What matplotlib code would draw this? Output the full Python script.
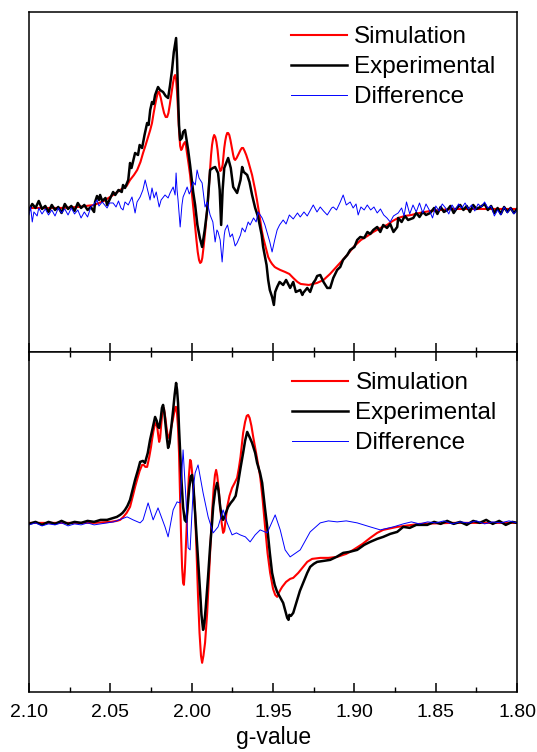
import matplotlib
matplotlib.use('Agg')
import matplotlib.pyplot as plt
from matplotlib.ticker import MultipleLocator, FormatStrFormatter

plt.rcParams.update({
    'font.family': ['Liberation Sans', 'DejaVu Sans'],
    'axes.linewidth': 1.1,
    'xtick.direction': 'in',
    'xtick.major.size': 6.5,
    'xtick.minor.size': 3.5,
    'xtick.major.width': 1.1,
    'xtick.minor.width': 1.0,
    'lines.solid_joinstyle': 'round',
})

# ---- upper spectrum ---------------------------------------------------
top_exp_g = [2.100, 2.098, 2.096, 2.094, 2.092, 2.090, 2.088, 2.086, 2.084, 2.082,
             2.080, 2.078, 2.076, 2.074, 2.072, 2.070, 2.068, 2.066, 2.064, 2.062,
             2.060, 2.0594, 2.0582, 2.057, 2.0563, 2.055, 2.053, 2.052, 2.050, 2.0483,
             2.047, 2.045, 2.043, 2.0422, 2.041, 2.039, 2.0379, 2.037, 2.0355, 2.0348,
             2.033, 2.032, 2.0305, 2.0299, 2.029, 2.0274, 2.0265, 2.0255, 2.0244, 2.0235,
             2.0225, 2.0207, 2.0195, 2.0176, 2.016, 2.0145, 2.0133, 2.0121, 2.011, 2.0096,
             2.009, 2.0084, 2.0078, 2.0071, 2.006, 2.0053, 2.0041, 2.003, 2.0022, 2.001,
             1.9998, 1.9991, 1.9979, 1.9965, 1.995, 1.9936, 1.992, 1.9905, 1.9887, 1.987,
             1.9856, 1.9838, 1.9828, 1.9819, 1.981, 1.980, 1.9776, 1.976, 1.9745, 1.9721,
             1.970, 1.969, 1.968, 1.9659, 1.9645, 1.9629, 1.961, 1.9592, 1.957, 1.9561,
             1.954, 1.953, 1.952, 1.9506, 1.9495, 1.9487, 1.9475, 1.946, 1.9438, 1.942,
             1.9395, 1.9376, 1.936, 1.9333, 1.932, 1.9315, 1.929, 1.9272, 1.9253, 1.924,
             1.9229, 1.921, 1.919, 1.9167, 1.9149, 1.913, 1.9106, 1.9087, 1.907, 1.9044,
             1.9026, 1.900, 1.8983, 1.8964, 1.894, 1.892, 1.8903, 1.8884, 1.886, 1.8841,
             1.8823, 1.880, 1.878, 1.876, 1.8737, 1.8731, 1.871, 1.869, 1.867, 1.8638,
             1.862, 1.860, 1.858, 1.856, 1.8534, 1.851, 1.849, 1.847, 1.845, 1.8429,
             1.841, 1.839, 1.837, 1.835, 1.833, 1.831, 1.829, 1.827, 1.825, 1.8226,
             1.820, 1.818, 1.816, 1.814, 1.812, 1.810, 1.808, 1.806, 1.804, 1.802, 1.800]
top_exp = [0, 6, 2, 9, 1, 4, -2, 5, 0, 3,
           -3, 6, 1, 4, -1, 7, 2, 5, 0, 3,
           -2, 8, 14, 10, 15, 9, 12, 5, 12, 18,
           15, 20, 18, 25, 22, 30, 47, 42, 52, 57,
           55, 65, 62, 67, 75, 87, 85, 100, 108, 106,
           115, 123, 120, 118, 114, 112, 125, 140, 158, 172,
           150, 115, 85, 70, 72, 78, 80, 68, 60, 45,
           28, 18, 5, -15, -28, -37, -20, 0, 40, 42,
           43, 37, 20, -15, 20, 42, 52, 42, 23, 17,
           30, 43, 38, 35, 28, 15, 2, -7, -25, -37,
           -55, -70, -80, -87, -95, -82, -77, -72, -75, -70,
           -78, -72, -82, -80, -85, -83, -78, -82, -73, -70,
           -66, -65, -72, -78, -78, -68, -60, -57, -50, -45,
           -40, -37, -30, -27, -28, -22, -24, -20, -17, -22,
           -15, -18, -14, -22, -17, -8, -12, -6, -10, -8,
           -3, -7, -2, -5, -3, 2, -4, 3, -2, 0,
           4, -3, 2, 5, 0, 4, -2, 5, 1, 3,
           6, 0, 4, -3, 2, -4, 3, -2, 2, -3, 1]

top_sim_g = [2.100, 2.090, 2.080, 2.070, 2.060, 2.054, 2.0483, 2.044, 2.040, 2.0379,
             2.0355, 2.0335, 2.0315, 2.0299, 2.0285, 2.027, 2.0255, 2.0244, 2.0235, 2.0225,
             2.0215, 2.0207, 2.020, 2.019, 2.018, 2.017, 2.016, 2.0151, 2.0143, 2.0135,
             2.0125, 2.0115, 2.0108, 2.0102, 2.0096, 2.009, 2.0084, 2.0078, 2.0071, 2.0065,
             2.006, 2.005, 2.0041, 2.0035, 2.003, 2.002, 2.001, 2.0002, 1.9995, 1.9987,
             1.9979, 1.9971, 1.9963, 1.9955, 1.9948, 1.9941, 1.9935, 1.9927, 1.9918, 1.9909,
             1.990, 1.9893, 1.9887, 1.9881, 1.9875, 1.9868, 1.9862, 1.9855, 1.9848, 1.9841,
             1.9835, 1.983, 1.9825, 1.9818, 1.981, 1.9805, 1.980, 1.9794, 1.9788, 1.9782,
             1.9776, 1.9769, 1.9762, 1.9753, 1.9745, 1.9739, 1.9733, 1.9724, 1.9715, 1.970,
             1.9692, 1.9684, 1.9675, 1.9665, 1.9653, 1.9641, 1.9629, 1.962, 1.961, 1.960,
             1.9592, 1.958, 1.957, 1.956, 1.9549, 1.954, 1.953, 1.9518, 1.9506, 1.949,
             1.948, 1.9456, 1.9426, 1.940, 1.9376, 1.935, 1.933, 1.928, 1.923, 1.919,
             1.915, 1.910, 1.9044, 1.900, 1.896, 1.892, 1.8884, 1.884, 1.880, 1.8765,
             1.8731, 1.869, 1.865, 1.860, 1.8534, 1.847, 1.840, 1.830, 1.820, 1.810, 1.800]
top_sim = [2, 2, 2, 3, 5, 9, 15, 20, 24, 30,
           35, 40, 48, 57, 64, 72, 80, 87, 96, 105,
           113, 118, 118, 112, 104, 97, 93, 93, 97, 105,
           116, 127, 133, 135, 131, 118, 100, 80, 64, 60,
           61, 66, 68, 64, 58, 47, 35, 22, 10, -3,
           -17, -30, -42, -50, -53, -52, -48, -37, -23, -6,
           10, 27, 43, 55, 65, 72, 75, 73, 68, 60,
           50, 43, 39, 40, 45, 53, 62, 69, 74, 77,
           77, 75, 70, 62, 55, 51, 50, 52, 55, 60,
           62, 62, 59, 55, 49, 42, 35, 28, 20, 11,
           3, -9, -20, -28, -35, -41, -47, -51, -54, -57,
           -58, -60, -62, -64, -68, -72, -74, -75, -73, -70,
           -64, -55, -45, -36, -30, -26, -22, -18, -15, -11,
           -8, -6, -5, -3, -1, 0, 1, 1, 1, 1, 1]

top_diff_g = [2.100, 2.099, 2.098, 2.097, 2.095, 2.094, 2.092, 2.090, 2.088, 2.086,
              2.084, 2.082, 2.080, 2.078, 2.076, 2.074, 2.072, 2.070, 2.068, 2.066,
              2.064, 2.062, 2.060, 2.0582, 2.057, 2.055, 2.0535, 2.052, 2.0505, 2.0483,
              2.0465, 2.045, 2.0435, 2.0422, 2.041, 2.039, 2.0367, 2.0348, 2.0336, 2.0317,
              2.030, 2.0286, 2.0274, 2.0256, 2.0244, 2.0231, 2.0218, 2.020, 2.0188, 2.0164,
              2.0145, 2.0133, 2.0114, 2.0102, 2.0096, 2.009, 2.0084, 2.0071, 2.006, 2.0053,
              2.004, 2.0028, 2.0015, 2.0004, 1.9991, 1.9978, 1.9967, 1.9955, 1.9936, 1.9918,
              1.9905, 1.9887, 1.987, 1.9856, 1.9845, 1.9838, 1.9825, 1.9813, 1.980, 1.9795,
              1.978, 1.9764, 1.975, 1.9733, 1.9721, 1.970, 1.969, 1.9672, 1.9653, 1.9641,
              1.962, 1.9604, 1.9592, 1.9579, 1.9567, 1.955, 1.9536, 1.952, 1.9506, 1.949,
              1.9475, 1.946, 1.9438, 1.942, 1.940, 1.9376, 1.935, 1.9333, 1.931, 1.929,
              1.9253, 1.923, 1.921, 1.919, 1.9167, 1.914, 1.913, 1.911, 1.9087, 1.9069,
              1.905, 1.9026, 1.9008, 1.899, 1.8977, 1.896, 1.894, 1.8921, 1.890, 1.888,
              1.886, 1.884, 1.882, 1.880, 1.878, 1.876, 1.8731, 1.871, 1.8695, 1.868,
              1.866, 1.864, 1.862, 1.860, 1.858, 1.856, 1.854, 1.852, 1.850, 1.848,
              1.846, 1.844, 1.842, 1.840, 1.838, 1.836, 1.834, 1.832, 1.830, 1.828,
              1.826, 1.824, 1.822, 1.820, 1.818, 1.816, 1.814, 1.812, 1.810, 1.808,
              1.806, 1.804, 1.802, 1.800]
top_diff = [-5, 3, -12, -2, -6, 2, -4, 1, -5, 0,
            -6, 2, -3, 1, -5, 2, -4, 0, -8, -2,
            -7, 3, 6, 10, 4, 8, 5, 2, 7, 7,
            3, 9, 2, 0, 8, 5, 13, -3, 8, 13,
            20, 30, 22, 10, 22, 12, 18, 3, 10, 15,
            12, 17, 23, 15, 37, 20, 10, -17, 5, 13,
            18, 23, 16, 20, 28, 25, 40, 32, 27, 3,
            8, -5, -12, -32, -20, -22, -30, -52, -25, -20,
            -15, -27, -24, -36, -33, -25, -18, -22, -12, -15,
            -8, -12, -2, -5, -8, -15, -23, -32, -42, -30,
            -20, -15, -10, -14, -5, -9, -3, -7, -2, -6,
            5, -2, 3, -1, -5, 2, 3, 0, 8, 15,
            5, 8, 2, 6, -5, 3, 0, 5, 0, 3,
            -3, 1, -5, -8, -12, -6, -3, 2, -6, 8,
            -4, 5, -2, 7, -3, 6, 0, -8, 4, -1,
            6, 2, -4, 5, 0, 6, 2, 7, 1, 5,
            -1, 6, 3, 8, 2, 4, -6, 0, -5, 3,
            -3, 2, -4, 0]

# ---- lower spectrum ---------------------------------------------------
bot_exp_g = [2.100, 2.096, 2.092, 2.088, 2.084, 2.080, 2.076, 2.072, 2.068, 2.064,
             2.060, 2.056, 2.052, 2.048, 2.046, 2.044, 2.0425, 2.041, 2.0395, 2.0379,
             2.036, 2.0348, 2.033, 2.0317, 2.030, 2.0287, 2.027, 2.0256, 2.024, 2.0225,
             2.0215, 2.0207, 2.020, 2.019, 2.0183, 2.0176, 2.0168, 2.016, 2.0152, 2.0145,
             2.0136, 2.0128, 2.012, 2.0114, 2.0105, 2.0096, 2.009, 2.0084, 2.0078, 2.0071,
             2.0062, 2.0053, 2.0043, 2.0034, 2.0024, 2.0015, 2.0006, 1.9998, 1.999, 1.9979,
             1.9967, 1.9958, 1.9948, 1.994, 1.993, 1.9922, 1.9914, 1.990, 1.9887, 1.9875,
             1.9868, 1.9856, 1.9844, 1.9835, 1.9825, 1.9815, 1.9807, 1.9795, 1.9776, 1.976,
             1.9745, 1.973, 1.9715, 1.970, 1.9684, 1.9672, 1.9659, 1.9645, 1.9629, 1.961,
             1.9598, 1.958, 1.9567, 1.955, 1.9536, 1.952, 1.9506, 1.949, 1.9475, 1.9455,
             1.9438, 1.9425, 1.9413, 1.9405, 1.940, 1.939, 1.9376, 1.9352, 1.9335, 1.9315,
             1.929, 1.9272, 1.925, 1.9229, 1.919, 1.9149, 1.911, 1.9069, 1.903, 1.8983,
             1.894, 1.8903, 1.886, 1.8823, 1.878, 1.8737, 1.870, 1.866, 1.862, 1.8552,
             1.851, 1.847, 1.843, 1.839, 1.835, 1.831, 1.827, 1.823, 1.819, 1.815,
             1.811, 1.807, 1.803, 1.800]
bot_exp = [-1, 1, -2, 1, -1, 2, -1, 1, 0, 2,
           1, 3, 3, 5, 6, 8, 10, 13, 17, 23,
           35, 43, 53, 61, 62, 60, 70, 83, 95, 106,
           102, 96, 95, 105, 115, 118, 110, 97, 84, 75,
           80, 92, 104, 113, 128, 140, 133, 120, 95, 70,
           40, 16, 3, 1, 18, 35, 46, 48, 38, 10,
           -20, -45, -70, -92, -107, -100, -85, -55, -24, 0,
           16, 32, 40, 32, 16, 6, 3, 8, 16, 20,
           23, 27, 40, 55, 70, 82, 91, 86, 80, 70,
           60, 50, 40, 15, -4, -30, -50, -62, -69, -75,
           -80, -88, -95, -97, -92, -93, -90, -77, -68, -60,
           -50, -44, -41, -39, -38, -37, -34, -30, -29, -27,
           -22, -19, -16, -14, -11, -9, -4, -5, -2, -2,
           1, -1, 2, -1, 1, -2, 2, 0, 3, -1,
           2, -2, 1, 0]

bot_sim_g = [2.100, 2.080, 2.060, 2.050, 2.046, 2.044, 2.042, 2.040, 2.0379, 2.036,
             2.0348, 2.0336, 2.032, 2.0305, 2.0295, 2.0285, 2.0274, 2.0262, 2.025, 2.0244,
             2.0235, 2.0227, 2.0219, 2.0212, 2.0206, 2.020, 2.0194, 2.0188, 2.0182, 2.0176,
             2.017, 2.0162, 2.0153, 2.0145, 2.0138, 2.013, 2.012, 2.0108, 2.010, 2.0096,
             2.009, 2.0084, 2.0078, 2.0071, 2.0065, 2.0059, 2.0053, 2.0048, 2.0043, 2.004,
             2.0033, 2.0025, 2.0018, 2.001, 2.0005, 1.9999, 1.9995, 1.9987, 1.9979, 1.997,
             1.9961, 1.9952, 1.9943, 1.9936, 1.9928, 1.9918, 1.9905, 1.989, 1.9875, 1.9865,
             1.9857, 1.985, 1.9843, 1.9835, 1.9825, 1.9816, 1.9807, 1.980, 1.9792, 1.9782,
             1.9768, 1.9752, 1.9736, 1.9721, 1.971, 1.970, 1.9684, 1.9672, 1.9662, 1.9653,
             1.9644, 1.9633, 1.9622, 1.960, 1.9579, 1.9565, 1.9549, 1.9534, 1.9518, 1.950,
             1.9487, 1.9475, 1.9465, 1.9455, 1.9444, 1.942, 1.9395, 1.9376, 1.9345, 1.9315,
             1.929, 1.926, 1.921, 1.916, 1.9106, 1.905, 1.9007, 1.895, 1.8903, 1.886,
             1.8823, 1.8737, 1.860, 1.840, 1.800]
bot_sim = [0, 0, 0, 1, 2, 3, 6, 10, 16, 28,
           36, 43, 52, 58, 58, 56, 56, 65, 76, 83,
           92, 98, 100, 96, 88, 81, 85, 97, 108, 116,
           114, 105, 93, 85, 86, 92, 100, 110, 116, 116,
           109, 95, 70, 23, -15, -45, -60, -62, -50, -40,
           -12, 20, 45, 63, 62, 53, 45, 30, 10, -30,
           -74, -110, -133, -140, -133, -120, -90, -40, 10, 35,
           48, 53, 47, 35, 16, 0, -10, -8, 2, 16,
           27, 35, 40, 45, 55, 66, 90, 101, 107, 108,
           105, 97, 86, 66, 46, 25, -4, -30, -50, -66,
           -72, -74, -70, -67, -64, -59, -56, -55, -50, -44,
           -39, -36, -35, -35, -34, -31, -27, -21, -15, -10,
           -7, -4, -1, 0, 0]

bot_diff_g = [2.100, 2.096, 2.092, 2.088, 2.084, 2.080, 2.076, 2.072, 2.068, 2.064,
              2.060, 2.056, 2.052, 2.048, 2.0397, 2.036, 2.0317, 2.0299, 2.0268, 2.0237,
              2.0207, 2.0164, 2.0145, 2.0114, 2.009, 2.0071, 2.0053, 2.0034, 2.0022, 2.001,
              1.9991, 1.9979, 1.9961, 1.993, 1.9899, 1.9868, 1.9838, 1.9807, 1.9782, 1.9752,
              1.9725, 1.9702, 1.967, 1.9641, 1.961, 1.9579, 1.9536, 1.9487, 1.9456, 1.9426,
              1.9395, 1.9333, 1.9272, 1.921, 1.916, 1.9106, 1.905, 1.8983, 1.8903, 1.8841,
              1.8761, 1.870, 1.865, 1.860, 1.855, 1.850, 1.845, 1.840, 1.835, 1.830,
              1.825, 1.820, 1.815, 1.810, 1.805, 1.800]
bot_diff = [-2, 0, -3, -1, -2, 0, -3, -1, -2, 0,
            -2, -1, 0, 1, 6, 3, 0, 3, 20, 3,
            15, -4, -14, 13, 21, 20, 73, 20, -25, -27,
            33, 50, 58, 30, 6, -10, -4, 13, 0, -12,
            -10, -12, -14, -19, -12, -7, -10, 8, -7, -27,
            -34, -27, -9, 0, 2, 1, 2, 0, -4, -7,
            -4, -1, 1, -1, 1, 0, 2, -1, 1, 0,
            2, -1, 1, 0, 2, 0]

TOP_YLIM = (-142, 198)
BOT_YLIM = (-169, 171)

fig = plt.figure(figsize=(5.37, 7.52), dpi=100)
ax_top = fig.add_axes([0.054, 0.532, 0.909, 0.452])
ax_bot = fig.add_axes([0.054, 0.080, 0.909, 0.452])

panels = [
    (ax_top, top_sim_g, top_sim, top_exp_g, top_exp, top_diff_g, top_diff, TOP_YLIM, (0.990, 1.008)),
    (ax_bot, bot_sim_g, bot_sim, bot_exp_g, bot_exp, bot_diff_g, bot_diff, BOT_YLIM, (0.993, 0.990)),
]
for ax, sg, sv, eg, ev, dg, dv, ylim, anchor in panels:
    ax.plot(sg, sv, color='#ff0000', lw=1.5, label='Simulation')
    ax.plot(eg, ev, color='black', lw=1.8, label='Experimental')
    ax.plot(dg, dv, color='#0000ff', lw=0.7, label='Difference')
    ax.set_xlim(2.10, 1.80)
    ax.set_ylim(*ylim)
    ax.set_yticks([])
    ax.xaxis.set_major_locator(MultipleLocator(0.05))
    ax.xaxis.set_minor_locator(MultipleLocator(0.025))
    ax.legend(loc='upper right', frameon=False, fontsize=17.5,
              handlelength=2.3, handletextpad=0.3, labelspacing=0.33,
              borderaxespad=0.3, bbox_to_anchor=anchor)

ax_top.tick_params(axis='x', which='both', bottom=True, top=False, labelbottom=False)
ax_bot.tick_params(axis='x', which='both', bottom=True, top=True, labelbottom=True,
                   labelsize=14, pad=9)
ax_bot.xaxis.set_major_formatter(FormatStrFormatter('%.2f'))
ax_bot.set_xlabel('g-value', fontsize=16.5, labelpad=3)

fig.savefig('out.png', dpi=100)
